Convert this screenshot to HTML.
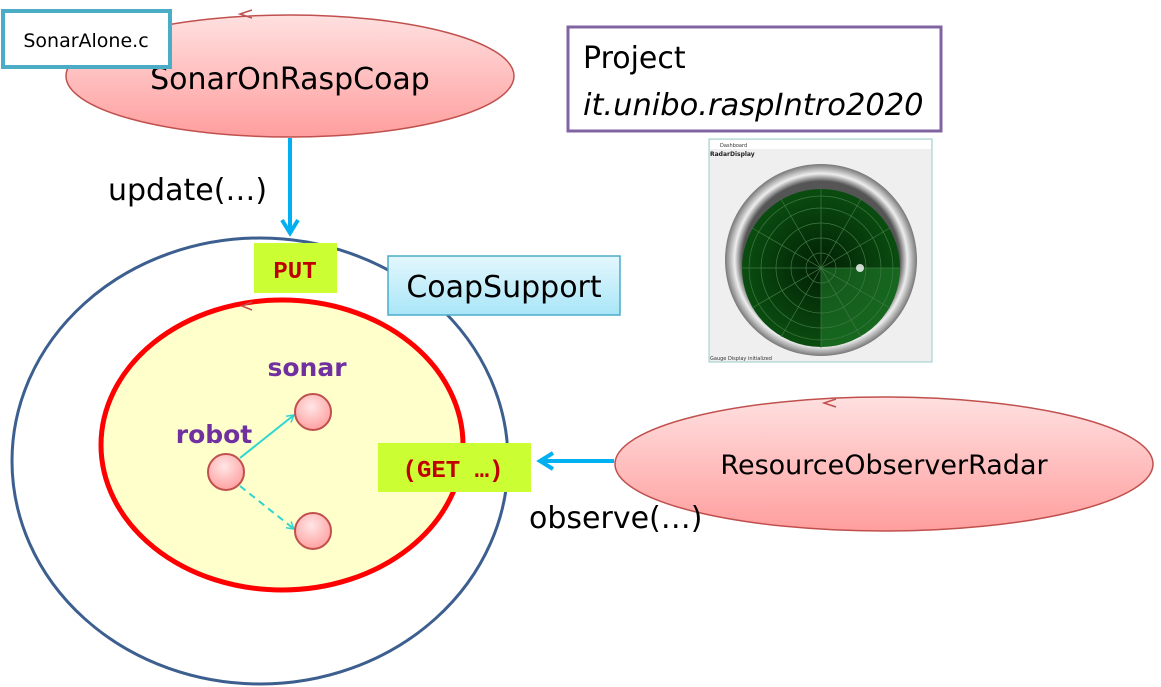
<!DOCTYPE html>
<html><head><meta charset="utf-8"><style>
body{margin:0;width:1161px;height:687px;background:#fff;overflow:hidden;font-family:"DejaVu Sans","Liberation Sans",sans-serif}
</style></head><body>
<svg width="1161" height="687" xmlns="http://www.w3.org/2000/svg" style="position:absolute;left:0;top:0">
<defs>
<linearGradient id="pink" x1="0" y1="0" x2="0" y2="1"><stop offset="0" stop-color="#ffe0e0"/><stop offset="1" stop-color="#ff9e9e"/></linearGradient>
<radialGradient id="ball" cx="0.45" cy="0.35" r="0.7"><stop offset="0" stop-color="#ffe6e6"/><stop offset="1" stop-color="#ff9c9c"/></radialGradient>
<linearGradient id="blue" x1="0" y1="0" x2="0" y2="1"><stop offset="0" stop-color="#e4f7fd"/><stop offset="1" stop-color="#a9e6f8"/></linearGradient>
<radialGradient id="bezel" cx="0.5" cy="0.5" r="0.5"><stop offset="0.82" stop-color="#555"/><stop offset="0.9" stop-color="#eee"/><stop offset="1" stop-color="#777"/></radialGradient>
<radialGradient id="scope" cx="0.5" cy="0.5" r="0.5"><stop offset="0" stop-color="#021f04"/><stop offset="1" stop-color="#0a4d10"/></radialGradient>
<marker id="ah" markerWidth="10" markerHeight="10" refX="8" refY="5" orient="auto" markerUnits="userSpaceOnUse"><path d="M1,1 L8,5 L1,9" fill="none" stroke="#2dd6d0" stroke-width="1.5"/></marker>
</defs>
<ellipse cx="290" cy="76" rx="224" ry="61" fill="url(#pink)" stroke="#c0504d" stroke-width="1.5"/>
<path d="M252,10 L240,14 L252,18" fill="none" stroke="#c0504d" stroke-width="1.5"/>
<text x="290" y="89" font-size="30" text-anchor="middle" fill="#000">SonarOnRaspCoap</text>
<rect x="3" y="11" width="167" height="56" fill="#fff" stroke="#4bacc6" stroke-width="4"/>
<text x="86" y="47" font-size="19" text-anchor="middle">SonarAlone.c</text>
<line x1="290" y1="138" x2="290" y2="232" stroke="#00b0f0" stroke-width="4"/>
<path d="M282,220 L290,233 L298,220" fill="none" stroke="#00b0f0" stroke-width="4"/>
<text x="108" y="200" font-size="30">update(…)</text>
<ellipse cx="260" cy="461" rx="248" ry="223" fill="#fff" stroke="#3c5f8f" stroke-width="3"/>
<ellipse cx="282" cy="445" rx="181" ry="145" fill="#ffffcc" stroke="#ff0000" stroke-width="5"/>
<path d="M252,302 L242,306 L252,310" fill="none" stroke="#c0504d" stroke-width="1.5"/>
<rect x="254" y="243" width="83" height="50" fill="#ccff33"/>
<text x="295" y="278" font-size="24" font-weight="bold" font-family="Liberation Mono,monospace" fill="#c00000" text-anchor="middle">PUT</text>
<rect x="388" y="256" width="232" height="59" fill="url(#blue)" stroke="#4bacc6" stroke-width="1.5"/>
<text x="504" y="297" font-size="30" text-anchor="middle">CoapSupport</text>
<text x="307" y="376" font-size="25" font-weight="bold" fill="#7030a0" text-anchor="middle">sonar</text>
<text x="214" y="443" font-size="25" font-weight="bold" fill="#7030a0" text-anchor="middle">robot</text>
<line x1="240" y1="458" x2="294" y2="415" stroke="#2dd6d0" stroke-width="2" marker-end="url(#ah)"/>
<line x1="240" y1="486" x2="294" y2="529" stroke="#2dd6d0" stroke-width="2" stroke-dasharray="7,5" marker-end="url(#ah)"/>
<circle cx="226" cy="472" r="18" fill="url(#ball)" stroke="#c0504d" stroke-width="2"/>
<circle cx="313" cy="412" r="18" fill="url(#ball)" stroke="#c0504d" stroke-width="2"/>
<circle cx="313" cy="531" r="18" fill="url(#ball)" stroke="#c0504d" stroke-width="2"/>
<rect x="378" y="443" width="153" height="49" fill="#ccff33"/>
<text x="453" y="477" font-size="24" font-weight="bold" font-family="Liberation Mono,monospace" fill="#c00000" text-anchor="middle">(GET …)</text>
<ellipse cx="884" cy="464" rx="269" ry="67" fill="url(#pink)" stroke="#c0504d" stroke-width="1.5"/>
<path d="M836,399 L824,403 L836,407" fill="none" stroke="#c0504d" stroke-width="1.5"/>
<text x="884" y="474" font-size="27" text-anchor="middle">ResourceObserverRadar</text>
<line x1="614" y1="461" x2="542" y2="461" stroke="#00b0f0" stroke-width="4"/>
<path d="M553,453 L540,461 L553,469" fill="none" stroke="#00b0f0" stroke-width="4"/>
<text x="529" y="528" font-size="30">observe(…)</text>
<rect x="568" y="27" width="373" height="104" fill="#fff" stroke="#8064a2" stroke-width="3"/>
<text x="583" y="68" font-size="30">Project</text>
<text x="583" y="115" font-size="30.5" font-style="italic">it.unibo.raspIntro2020</text>
<rect x="709" y="139" width="223" height="223" fill="#efefef" stroke="#9cc" stroke-width="1"/>
<rect x="710" y="140" width="221" height="9" fill="#fff"/>
<text x="720" y="147" font-size="5" fill="#333">Dashboard</text>
<text x="710" y="156" font-size="6" font-weight="bold" fill="#222">RadarDisplay</text>
<circle cx="821" cy="260" r="96" fill="url(#bezel)"/>
<circle cx="821" cy="268" r="79" fill="url(#scope)"/>
<path d="M821,268 L821,347 A79,79 0 0 0 900,268 Z" fill="#1f7a2a" opacity="0.6"/>
<g fill="none" stroke="#3f7a44" stroke-width="0.7">
<circle cx="821" cy="268" r="15"/><circle cx="821" cy="268" r="30"/><circle cx="821" cy="268" r="45"/><circle cx="821" cy="268" r="60"/><circle cx="821" cy="268" r="72"/>
<line x1="741" y1="268" x2="901" y2="268"/><line x1="821" y1="188" x2="821" y2="348"/>
<line x1="752" y1="228" x2="890" y2="308"/><line x1="752" y1="308" x2="890" y2="228"/>
<line x1="781" y1="199" x2="861" y2="337"/><line x1="781" y1="337" x2="861" y2="199"/>
</g>
<circle cx="860" cy="268" r="4" fill="#fff" opacity="0.8"/>
<text x="710" y="360" font-size="5" fill="#333">Gauge Display initialized</text>
</svg>
</body></html>
